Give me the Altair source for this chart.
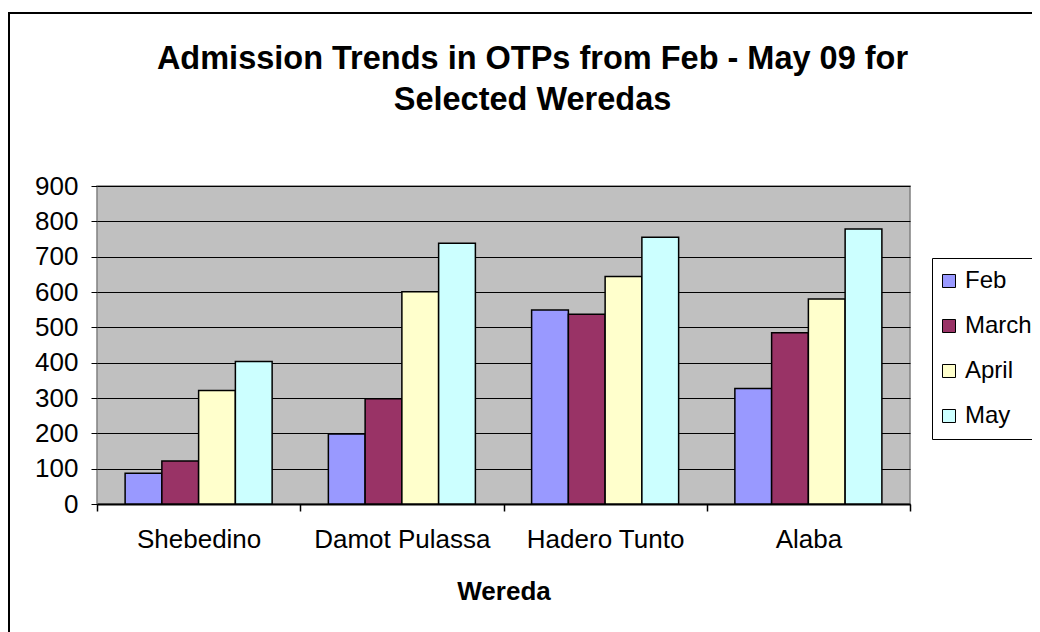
import altair as alt
import pandas as pd

weredas = ["Shebedino", "Damot Pulassa", "Hadero Tunto", "Alaba"]
months = ["Feb", "March", "April", "May"]
feb = [87, 198, 549, 327]
march = [122, 298, 537, 485]
april = [321, 601, 644, 580]
may = [403, 738, 755, 778]
colors = ["#9999FF", "#993366", "#FFFFCC", "#CCFFFF"]

rows = []
for i, w in enumerate(weredas):
    for m, vals in zip(months, [feb, march, april, may]):
        rows.append({"Wereda": w, "Month": m, "Admissions": vals[i]})
df = pd.DataFrame(rows)

FONT = "Liberation Sans"

bars = alt.Chart(df).mark_bar(stroke="black", strokeWidth=1.5).encode(
    x=alt.X("Wereda:N", sort=weredas,
            scale=alt.Scale(paddingInner=0, paddingOuter=0),
            axis=alt.Axis(title="Wereda", labelAngle=0, labelFontSize=26,
                          labelFont=FONT, labelColor="black", labelPadding=15,
                          titleFont=FONT, titleFontSize=26, titleFontWeight="bold",
                          titleColor="black", titlePadding=26,
                          tickBand="extent", tickSize=7, tickColor="black",
                          tickWidth=1.5,
                          domainColor="black", domainWidth=2)),
    xOffset=alt.XOffset("Month:N", sort=months,
                        scale=alt.Scale(paddingInner=0, paddingOuter=0.765)),
    y=alt.Y("Admissions:Q",
            scale=alt.Scale(domain=[0, 900], nice=False),
            axis=alt.Axis(title=None, values=list(range(0, 1000, 100)),
                          labelFontSize=26, labelFont=FONT, labelColor="black",
                          labelPadding=13, tickSize=6, tickColor="black",
                          grid=True, gridColor="black", gridWidth=1,
                          domain=False)),
    color=alt.Color("Month:N", sort=months,
                    scale=alt.Scale(domain=months, range=colors),
                    legend=alt.Legend(title=None, orient="none",
                                      legendX=835, legendY=72,
                                      strokeColor="black", fillColor="white",
                                      padding=11, symbolType="square",
                                      symbolSize=169, symbolStrokeColor="black",
                                      symbolStrokeWidth=1, symbolOpacity=1,
                                      symbolOffset=-6,
                                      labelFontSize=24, labelFont=FONT,
                                      labelColor="black", rowPadding=21,
                                      labelOffset=4)),
)

border = alt.Chart(pd.DataFrame({"a": [0]})).mark_rect(
    fillOpacity=0, stroke="black", strokeWidth=2
).encode(
    x=alt.value(-88), y=alt.value(-173), x2=alt.value(1200), y2=alt.value(1000)
)

chart = alt.layer(bars, border).properties(
    width=813,
    height=318,
    padding={"left": 89, "top": 178, "right": 122, "bottom": 128},
    autosize=alt.AutoSizeParams(type="none"),
    background="white",
    title=alt.TitleParams(
        text=["Admission Trends in OTPs from Feb - May 09 for", "Selected Weredas"],
        font=FONT, fontSize=32.5, fontWeight="bold", color="black",
        anchor="middle", frame="group", dx=29, lineHeight=41, offset=-104,
    ),
).configure_view(
    fill="#C0C0C0", stroke="#808080", strokeWidth=1.5
)

chart.save("out.html", embed_options={"renderer": "svg", "actions": False})
